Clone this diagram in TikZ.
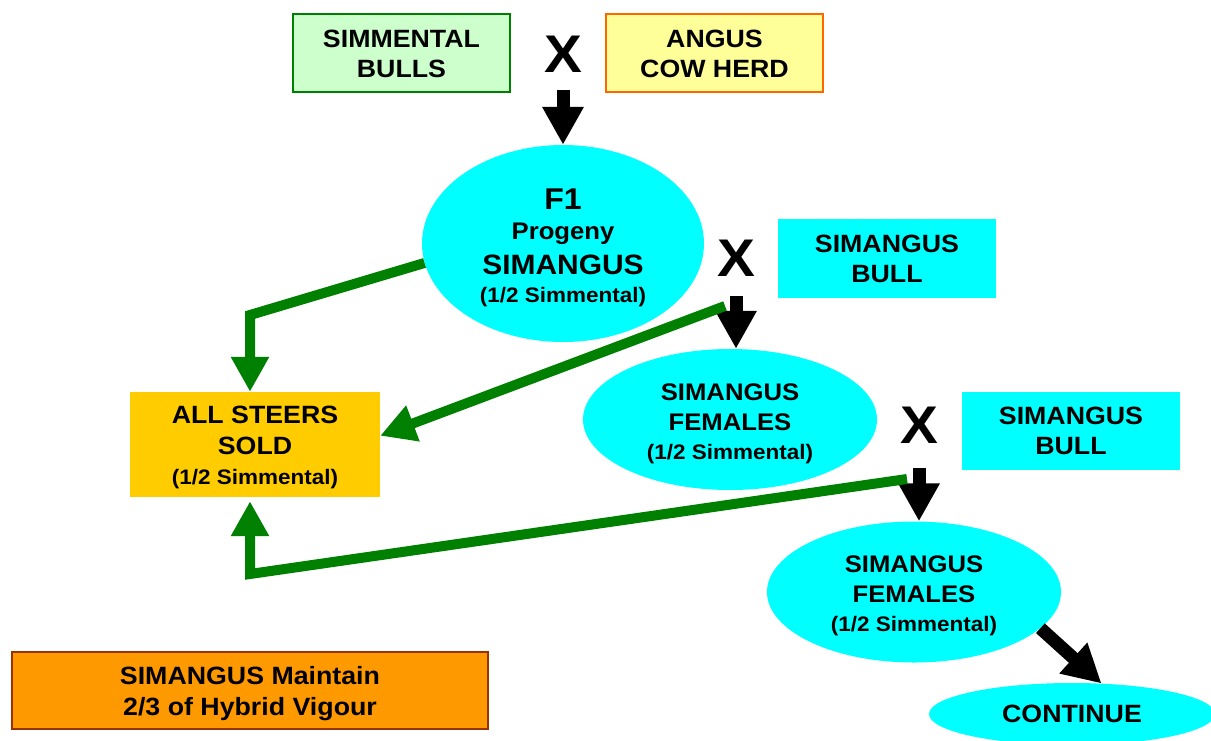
\documentclass[tikz,border=0pt]{standalone}
\usepackage{fontspec}
\setmainfont{Liberation Sans}[FakeStretch=1.07]
\usetikzlibrary{shapes.geometric,arrows.meta,calc}

\definecolor{cyanfill}{RGB}{0,255,255}
\definecolor{mintfill}{RGB}{204,255,204}
\definecolor{mintline}{RGB}{0,128,0}
\definecolor{lemonfill}{RGB}{255,255,153}
\definecolor{lemonline}{RGB}{255,102,0}
\definecolor{goldfill}{RGB}{255,204,0}
\definecolor{amberfill}{RGB}{255,153,0}
\definecolor{amberline}{RGB}{153,51,0}
\definecolor{flowgreen}{RGB}{0,128,0}

\newcommand{\fs}[2]{\fontsize{#1}{#2}\selectfont}
% invisible strut that lowers a text block inside its node
\newcommand{\lift}[1]{\rule{0pt}{#1}}

\tikzset{
  box/.style={rectangle, inner sep=0pt, align=center,
    font=\bfseries\fs{25}{30}},
  oval/.style={ellipse, inner sep=0pt, fill=cyanfill, align=center,
    font=\bfseries\fs{25}{30}},
  cross/.style={inner sep=0pt, anchor=base, font=\bfseries\fs{53}{53}},
  blockarrow/.style={draw=black, line width=13pt,
    -{Triangle[width=39pt,length=38pt]}},
  greenarrow/.style={draw=flowgreen, line width=10pt, line join=miter,
    -{Triangle[width=36pt,length=35pt]}},
}

\begin{document}
\begin{tikzpicture}[x=1pt,y=-1pt]
\useasboundingbox (0,0) rectangle (1211,740);
\fill[white] (0,0) rectangle (1211,740);
\clip (0,0) rectangle (1211,740);

% parent breeds
\node[box, fill=mintfill, draw=mintline, line width=1.5pt,
  minimum width=217pt, minimum height=78pt] (simb) at (401.5,53)
  {\lift{20pt}SIMMENTAL\\BULLS};
\node[cross] (x1) at (563,72) {X};
\node[box, fill=lemonfill, draw=lemonline, line width=1.5pt,
  minimum width=217pt, minimum height=78pt] (angus) at (714.5,53)
  {\lift{20pt}ANGUS\\COW HERD};

% first cross
\node[oval, minimum width=282pt, minimum height=197pt] (f1) at (563,243.5)
  {\lift{29pt}{\fs{30}{30}F1}\\[0pt]{\fs{24}{24}Progeny}\\[5pt]{\fs{28}{28}SIMANGUS}\\[-2pt]{\fs{21}{21}(1/2 Simmental)}};
\node[cross] (x2) at (736,276) {X};
\node[box, fill=cyanfill, minimum width=218pt, minimum height=79pt]
  (bull1) at (887,258.5) {SIMANGUS\\BULL};

% steers
\node[box, fill=goldfill, minimum width=250pt, minimum height=105pt]
  (steers) at (255,444.5)
  {\lift{23.5pt}ALL STEERS\\[1pt]SOLD\\[0pt]{\fs{21}{21}(1/2 Simmental)}};

% second generation
\node[oval, minimum width=294pt, minimum height=141pt] (fem1) at (730,419.5)
  {\lift{25pt}{\fs{24}{24}SIMANGUS}\\{\fs{24}{24}FEMALES}\\[-1pt]{\fs{21}{21}(1/2 Simmental)}};
\node[cross] (x3) at (919,443) {X};
\node[box, fill=cyanfill, minimum width=218pt, minimum height=78pt]
  (bull2) at (1071,431) {SIMANGUS\\BULL};

% third generation
\node[oval, minimum width=294pt, minimum height=141pt] (fem2) at (914,592)
  {\lift{25pt}{\fs{24}{24}SIMANGUS}\\{\fs{24}{24}FEMALES}\\[-1pt]{\fs{21}{21}(1/2 Simmental)}};
\node[oval, minimum width=286pt, minimum height=62pt] (cont) at (1072,714)
  {CONTINUE};

% summary
\node[box, fill=amberfill, draw=amberline, line width=1.5pt,
  font=\bfseries\fs{25}{31}, minimum width=476pt, minimum height=77pt]
  (summary) at (250,690.5) {\lift{23.5pt}SIMANGUS Maintain\\2/3 of Hybrid Vigour};

% free ends and bends of the steer arrows
\coordinate (k1) at (250,315);
\coordinate (g2) at (725,306);
\coordinate (g3) at (907,479);
\coordinate (k3) at (250,574);

% breeding arrows
\draw[blockarrow] ($(x1.south)+(0,18)$) -- (f1.north);
\draw[blockarrow] ($(x2.south)+(0,20)$) -- (x2.south |- fem1.north);
\draw[blockarrow] ($(x3.south)+(0,25)$) -- (x3.south |- fem2.north);
\draw[blockarrow] (fem2.-16) -- (cont.46);

% steer arrows
\draw[greenarrow] (f1.188) -- (k1) -- (k1 |- steers.north);
\draw[greenarrow] (g2) -- (steers.4.3);
\draw[greenarrow] (g3) -- (k3) -- ($(k3 |- steers.south)+(0,4)$);
\end{tikzpicture}
\end{document}
